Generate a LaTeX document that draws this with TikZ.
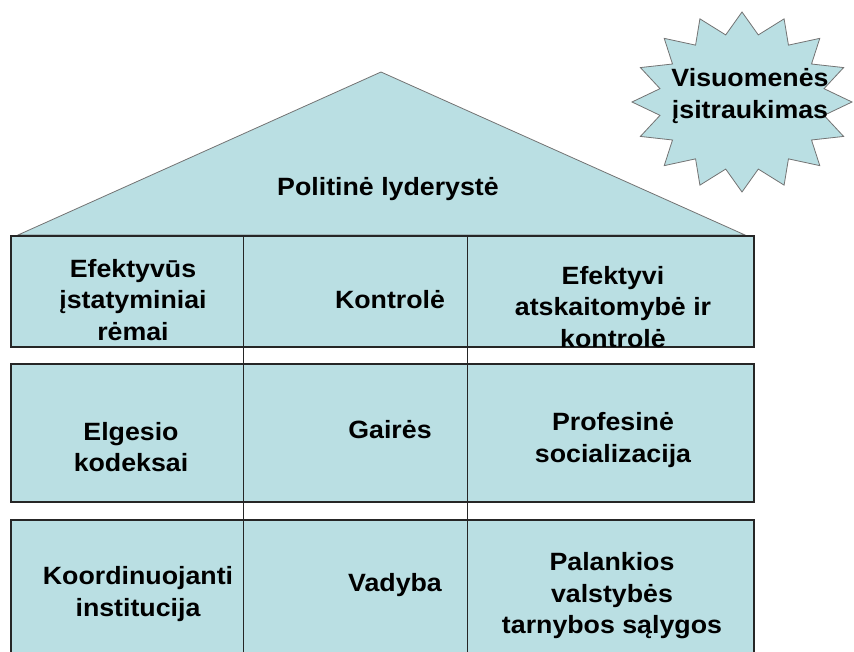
\documentclass[tikz,border=0pt]{standalone}
\usepackage{fontspec}
\setmainfont{Liberation Sans}[FakeStretch=1.07]
\definecolor{cellblue}{RGB}{186,223,227}
\tikzset{
  cell/.style={fill=cellblue, draw=black!85, line width=1.1pt},
  roof/.style={fill=cellblue, draw=black!55, line width=0.8pt},
  lbl/.style={font=\fontsize{25}{31.5}\selectfont\bfseries, align=center, inner sep=0pt},
  divider/.style={draw=black!85, line width=1pt},
}
\begin{document}
\begin{tikzpicture}[x=1pt,y=-1pt]
\useasboundingbox (0,0) rectangle (854,652);
\clip (0,0) rectangle (854,652);
% roof
\filldraw[roof] (18,235) coordinate (rl) -- (381,72) coordinate (apex) -- (745,235) coordinate (rr) -- cycle;
% star (16 points)
\filldraw[roof] (742,12)
  \foreach \i [evaluate=\i as \rr using {mod(\i,2)==0?1:0.76}] in {1,...,31}
  { -- ({742+110*\rr*cos(90+\i*11.25)},{102-90*\rr*sin(90+\i*11.25)}) } -- cycle;
% rows
\filldraw[cell] (11,236) rectangle (754,347);
\filldraw[cell] (11,364) rectangle (754,502);
\filldraw[cell] (11,520) rectangle (754,670);
% dividers
\coordinate (d1t) at (243,236); \coordinate (d1b) at (243,652);
\coordinate (d2t) at (467,236); \coordinate (d2b) at (467,652);
\draw[divider] (d1t) -- (d1b);
\draw[divider] (d2t) -- (d2b);
% labels
\node[lbl] (vis) at (750,96) {Visuomenės\\įsitraukimas};
\node[lbl] (pol) at (388,189) {Politinė lyderystė};
\node[lbl] (e1) at (133,300) {Efektyvūs\\įstatyminiai\\rėmai};
\node[lbl] (e2) at (390,300) {Kontrolė};
\node[lbl] (e3) at (613,307) {Efektyvi\\atskaitomybė ir\\kontrolė};
\node[lbl] (m1) at (131,447) {Elgesio\\kodeksai};
\node[lbl] (m2) at (390,430) {Gairės};
\node[lbl] (m3) at (613,440) {Profesinė\\socializacija};
\node[lbl] (b1) at (138,594) {Koordinuojanti\\institucija};
\node[lbl] (b2) at (395,585) {Vadyba};
\node[lbl] (b3) at (612,596) {Palankios\\valstybės\\tarnybos sąlygos};
\end{tikzpicture}
\end{document}
